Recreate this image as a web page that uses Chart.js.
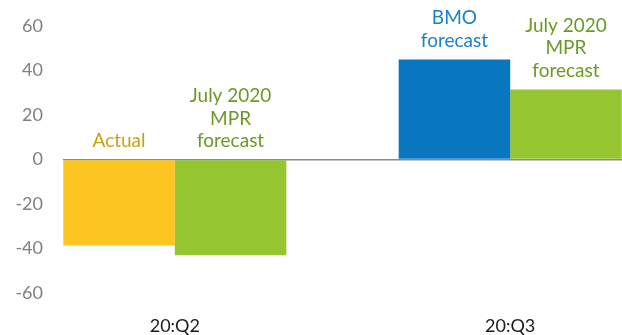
<!DOCTYPE html>
<html>
<head>
  <title>Quarterly forecast bars</title>
  <script src="https://cdn.jsdelivr.net/npm/chart.js"></script>
  <style>
    html, body { margin: 0; padding: 0; background: #fff; }
    #wrap { width: 622px; height: 335px; }
  </style>
</head>
<body>
  <div id="wrap"><canvas id="chart"></canvas></div>

  <script>
    // categories on the x axis
    const categories = ['20:Q2', '20:Q3'];

    // first bar in each group: actual for Q2, BMO forecast for Q3
    const firstValues = [-38.7, 45];
    const firstNames = [['Actual'], ['BMO', 'forecast']];

    // second bar in each group: July 2020 MPR forecast
    const mprValues = [-43, 31.5];
    const mprNames = [['July 2020', 'MPR', 'forecast'], ['July 2020', 'MPR', 'forecast']];

    const yTicks = [-60, -40, -20, 0, 20, 40, 60];

    const yellow = '#FDC620';
    const blue = '#0877BF';
    const green = '#96C532';

    // bar names written above each bar
    const barLabels = {
      id: 'barLabels',
      afterDatasetsDraw(chart) {
        const ctx = chart.ctx;
        ctx.save();
        ctx.font = '19px Lato';
        ctx.textAlign = 'center';
        ctx.textBaseline = 'middle';
        chart.data.datasets.forEach((ds, di) => {
          const meta = chart.getDatasetMeta(di);
          meta.data.forEach((bar, i) => {
            const lines = ds.names[i];
            const top = Math.min(bar.y, bar.base);
            ctx.fillStyle = ds.textColors[i];
            lines.forEach((line, k) => {
              const y = top - 19 - (lines.length - 1 - k) * 22.5;
              ctx.fillText(line, bar.x, y);
            });
          });
        });
        ctx.restore();
      }
    };

    new Chart(document.getElementById('chart'), {
      type: 'bar',
      data: {
        datasets: [
          {
            data: firstValues.map((v, i) => ({ x: i, y: v })),
            backgroundColor: [yellow, blue],
            names: firstNames,
            textColors: ['#C9A10E', '#1A82C6'],
          },
          {
            data: mprValues.map((v, i) => ({ x: i, y: v })),
            backgroundColor: green,
            names: mprNames,
            textColors: ['#6B9A24', '#6B9A24'],
          },
        ],
      },
      options: {
        responsive: true,
        maintainAspectRatio: false,
        animation: false,
        categoryPercentage: 0.665,
        barPercentage: 1,
        layout: { padding: { top: 26, right: 0, left: 0, bottom: 0 } },
        plugins: {
          legend: { display: false },
          tooltip: { enabled: false },
        },
        scales: {
          x: {
            type: 'linear',
            offset: false,
            min: -1 / 3,
            max: 4 / 3,
            afterBuildTicks: (scale) => {
              scale.ticks = categories.map((c, i) => ({ value: i }));
            },
            afterFit: (scale) => {
              scale.height = 42;
              scale.paddingLeft = 0;
              scale.paddingRight = 0;
            },
            border: { display: false },
            grid: { display: false, drawTicks: false },
            ticks: {
              padding: 22,
              color: '#1a1a1a',
              font: { family: 'Lato', size: 18 },
              maxRotation: 0,
              callback: (value) => categories[value] ?? '',
            },
          },
          y: {
            min: -60,
            max: 60,
            z: 1,
            afterBuildTicks: (scale) => {
              scale.ticks = yTicks.map(v => ({ value: v }));
            },
            afterFit: (scale) => {
              scale.width = 63;
              scale.paddingTop = 0;
              scale.paddingBottom = 0;
            },
            border: { display: false },
            grid: {
              drawTicks: false,
              lineWidth: 1.5,
              color: (ctx) => (ctx.tick && ctx.tick.value === 0 ? '#8a8a8a' : 'transparent'),
            },
            ticks: {
              padding: 20,
              color: '#808080',
              font: { family: 'Lato', size: 18 },
            },
          },
        },
      },
      plugins: [barLabels],
    });
  </script>
</body>
</html>
